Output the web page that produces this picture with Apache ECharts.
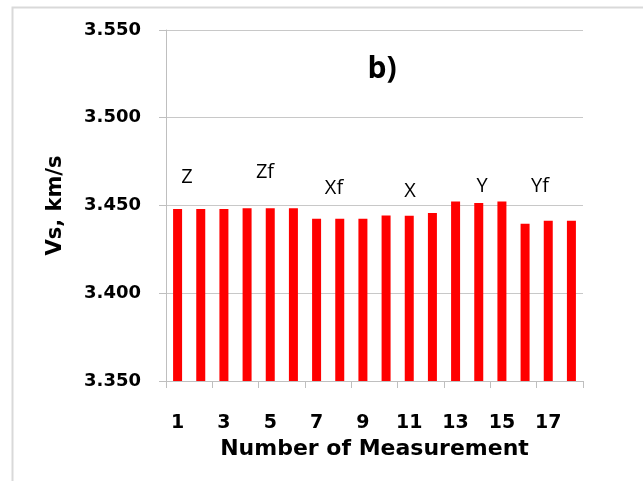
<!DOCTYPE html>
<html><head><meta charset="utf-8">
<script src="https://cdn.jsdelivr.net/npm/echarts@6/dist/echarts.min.js"></script>
<style>html,body{margin:0;padding:0;background:#fff}#c{width:643px;height:481px}</style>
</head><body><div id="c"></div>
<script>
var categories = ['1','2','3','4','5','6','7','8','9','10','11','12','13','14','15','16','17','18'];
var vsValues = [3.448,3.448,3.448,3.4485,3.4485,3.4485,3.4424,3.4424,3.4424,3.4443,3.4441,3.4457,3.4523,3.4514,3.4523,3.4396,3.4413,3.4413];
var groupLabels = ['Z','Zf','Xf','X','Y','Yf'];
var yTicks = [3.35,3.40,3.45,3.50,3.55];

var chart = echarts.init(document.getElementById('c'), null, {renderer:'canvas'});
var font = '"Open Sans", "DejaVu Sans", sans-serif';
var bfont = '"DejaVu Sans", sans-serif';
var labelPos = [[187,177],[265,172],[334,188],[410,191],[482,186],[540,186]];
chart.setOption({
  animation:false,
  backgroundColor:'#fff',
  grid:{left:166,right:60,top:30,bottom:100},
  xAxis:{
    type:'category', data:categories,
    axisLine:{lineStyle:{color:'#bfbfbf'}},
    axisTick:{show:true,length:7,lineStyle:{color:'#bfbfbf'}},
    axisLabel:{interval:1,fontFamily:bfont,fontWeight:'bold',fontSize:19,color:'#000',margin:33},
    name:'Number of Measurement', nameLocation:'middle', nameGap:55,
    nameTextStyle:{fontFamily:bfont,fontWeight:'bold',fontSize:22,color:'#000'}
  },
  yAxis:{
    type:'value', min:3.35, max:3.55, interval:0.05,
    axisLine:{show:true,lineStyle:{color:'#bfbfbf'}},
    axisTick:{show:true,length:7,lineStyle:{color:'#bfbfbf'}},
    splitLine:{lineStyle:{color:'#c8c8c8'}},
    axisLabel:{formatter:function(v){return v.toFixed(3);},fontFamily:bfont,fontWeight:'bold',fontSize:18,color:'#000',margin:25},
    name:'Vs, km/s', nameLocation:'middle', nameGap:100, nameRotate:90,
    nameTextStyle:{fontFamily:bfont,fontWeight:'bold',fontSize:21,color:'#000'}
  },
  series:[{type:'bar',data:vsValues,barWidth:9,itemStyle:{color:'#ff0000'}}],
  graphic:[
    {type:'rect',left:10,top:5,silent:true,shape:{width:700,height:600},style:{fill:'none',stroke:'#d9d9d9',lineWidth:2},z:-10},
    {type:'text',x:382,y:69,style:{text:'b)',font:'bold 30px '+font,fill:'#000',textAlign:'center',textVerticalAlign:'middle'}}
  ].concat(groupLabels.map(function(t,i){
    return {type:'text',x:labelPos[i][0],y:labelPos[i][1],style:{text:t,font:'20px '+font,fill:'#000',textAlign:'center',textVerticalAlign:'middle'}};
  }))
});
</script></body></html>
